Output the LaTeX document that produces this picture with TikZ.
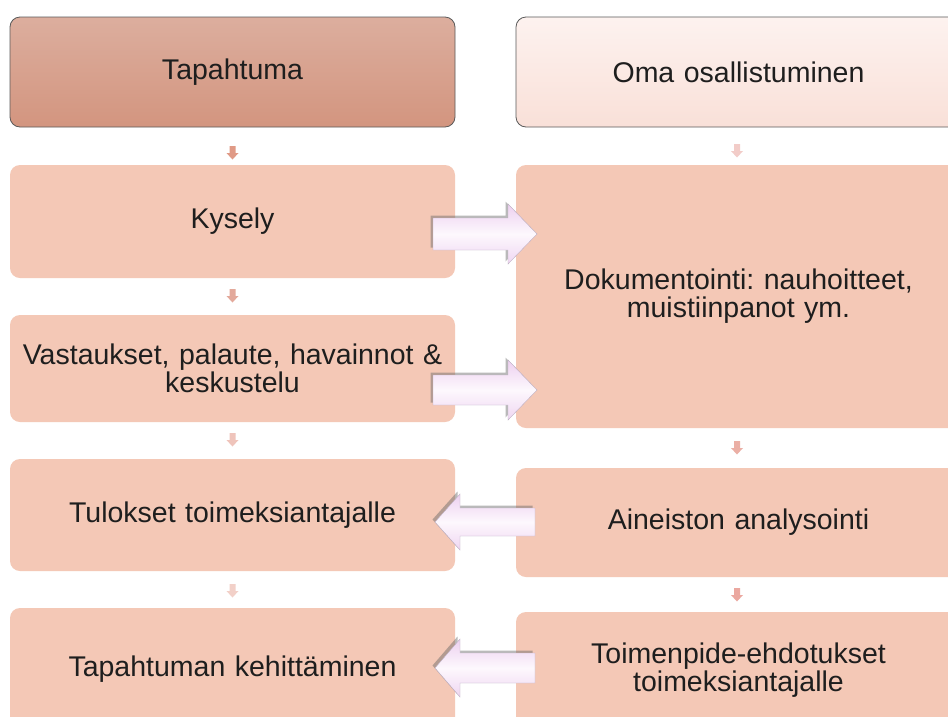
\documentclass[tikz,border=0pt]{standalone}
\usepackage{fontspec}
\setmainfont{Liberation Sans}
\usetikzlibrary{shadows}
\definecolor{boxfill}{HTML}{F4C8B6}
\definecolor{taptop}{HTML}{DCAE9E}
\definecolor{tapbot}{HTML}{D3957F}
\definecolor{omatop}{HTML}{FDF2EF}
\definecolor{omabot}{HTML}{F9E0D8}
\definecolor{txt}{HTML}{1E1E1E}
\definecolor{edge}{HTML}{5A5A5A}
\definecolor{arrtop}{HTML}{EDD0F0}
\definecolor{arrmid}{HTML}{FDF8FD}
\definecolor{arrbot}{HTML}{EFD6F2}
\definecolor{arredge}{HTML}{BDAFC2}
\definecolor{sA}{HTML}{E09A86}
\definecolor{sB}{HTML}{E3A99B}
\definecolor{sC}{HTML}{EFC4BB}
\definecolor{sD}{HTML}{F2D0C8}
\definecolor{rA}{HTML}{F2CCC8}
\definecolor{rB}{HTML}{EBAFA5}
\definecolor{rC}{HTML}{EBA8A0}
\begin{document}
\frenchspacing
\begin{tikzpicture}[x=1pt,y=-1pt,
  box/.style={rounded corners=10pt, minimum width=445pt, text width=440pt,
    align=center, inner sep=0pt, fill=boxfill, text=txt,
    font=\fontsize{28.5}{28}\selectfont},
  bigarrow/.style={draw=arredge, line width=0.4pt, top color=arrtop, bottom color=arrbot, middle color=arrmid,
    drop shadow={shadow xshift=-2.5pt, shadow yshift=2.5pt, fill=black!60, opacity=.45}}
]
\useasboundingbox (0,0) rectangle (948,716);
\fill[white] (0,0) rectangle (948,716);
\begin{scope}
\clip (0,0) rectangle (948,716);
% left column
\node[box, minimum height=110pt, fill=none, top color=taptop, bottom color=tapbot, draw=edge, line width=0.8pt] (tap) at (232.5,72) {Tapahtuma};
\node[box, minimum height=113pt] (kys) at (232.5,221.5) {Kysely};
\node[box, minimum height=107pt] (vas) at (232.5,368.5) {Vastaukset, palaute, havainnot \&\\keskustelu};
\node[box, minimum height=112pt] (tul) at (232.5,515) {Tulokset toimeksiantajalle};
\node[box, minimum height=122pt] (keh) at (232.5,669) {Tapahtuman kehittäminen};
% right column
\node[box, minimum height=110pt, fill=none, top color=omatop, bottom color=omabot, draw=edge, line width=0.8pt] (oma) at (738.5,72) {Oma osallistuminen};
\node[box, minimum height=263pt] (dok) at (738.5,296.5) {Dokumentointi: nauhoitteet,\\muistiinpanot ym.};
\node[box, minimum height=109pt] (ain) at (738.5,522.5) {Aineiston analysointi};
\node[box, minimum height=116pt, text width=300pt] (toi) at (738.5,670) {Toimenpide-ehdotukset\\toimeksiantajalle};
% small down arrows (centres)
\coordinate (s1) at (232.5,153);
\coordinate (s2) at (232.5,296);
\coordinate (s3) at (232.5,440);
\coordinate (s4) at (232.5,591);
\coordinate (r1) at (737,151);
\coordinate (r2) at (737,448);
\coordinate (r3) at (737,595);
\foreach \c/\col in {s1/sA,s2/sB,s3/sC,s4/sD,r1/rA,r2/rB,r3/rC}{
  \fill[\col, shift={(\c)}] (-3,-7) -- (3,-7) -- (3,0) -- (6,0) -- (0,6.5) -- (-6,0) -- (-3,0) -- cycle;
}
% big block arrows
\coordinate (a1) at (485,234);
\coordinate (a2) at (485,390);
\coordinate (a3) at (485,522);
\coordinate (a4) at (485,668);
\draw[bigarrow, shift={(a1)}] (-52,-16) -- (23,-16) -- (23,-30) -- (52,0) -- (23,30) -- (23,16) -- (-52,16) -- cycle;
\draw[bigarrow, shift={(a2)}] (-52,-15) -- (23,-15) -- (23,-30) -- (52,0) -- (23,30) -- (23,15) -- (-52,15) -- cycle;
\draw[bigarrow, shift={(a3)}] (50,-14) -- (-25,-14) -- (-25,-28) -- (-50,0) -- (-25,28) -- (-25,14) -- (50,14) -- cycle;
\draw[bigarrow, shift={(a4)}] (50,-15) -- (-25,-15) -- (-25,-29) -- (-50,0) -- (-25,29) -- (-25,15) -- (50,15) -- cycle;
\end{scope}
\end{tikzpicture}
\end{document}
